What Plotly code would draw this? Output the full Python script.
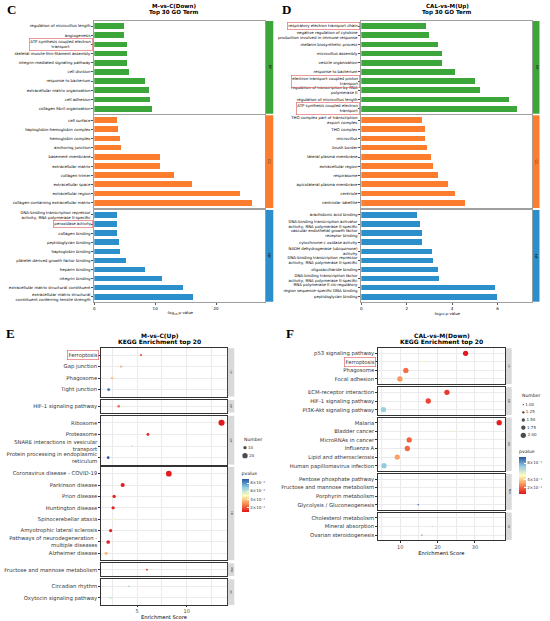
import plotly.graph_objects as go

W, H = 550, 621
DJ = "DejaVu Sans"

# ======================= DATA =======================
# Panel C : M-vs-C(Down) Top 30 GO Term  (-log10 p-value)
c_bp_terms = ["regulation of microvillus length", "angiogenesis",
              "ATP synthesis coupled electron<br>transport",
              "skeletal muscle thin filament assembly",
              "integrin-mediated signaling pathway", "cell division",
              "response to bacterium", "extracellular matrix organization",
              "cell adhesion", "collagen fibril organization"]
c_bp_vals = [4.97, 5.0, 5.35, 5.35, 5.4, 5.75, 8.3, 9.1, 9.2, 9.6]

c_cc_terms = ["cell surface", "haptoglobin-hemoglobin complex", "hemoglobin complex",
              "anchoring junction", "basement membrane", "extracellular matrix",
              "collagen trimer", "extracellular space", "extracellular region",
              "collagen-containing extracellular matrix"]
c_cc_vals = [3.8, 4.0, 4.2, 4.4, 10.8, 10.9, 13.2, 16.1, 24.0, 26.0]

c_mf_terms = ["DNA-binding transcription repressor<br>activity, RNA polymerase II-specific",
              "peroxidase activity", "collagen binding", "peptidoglycan binding",
              "haptoglobin binding", "platelet-derived growth factor binding",
              "heparin binding", "integrin binding",
              "extracellular matrix structural constituent",
              "extracellular matrix structural<br>constituent conferring tensile strength"]
c_mf_vals = [3.7, 3.7, 3.8, 4.1, 4.2, 5.3, 8.3, 11.2, 14.7, 16.3]

c_highlight = ["ATP synthesis coupled electron<br>transport", "peroxidase activity"]
c_x_ticks = [0, 10, 20]

# Panel D : CAL-vs-M(Up) Top 30 GO Term
d_bp_terms = ["respiratory electron transport chain",
              "negative regulation of cytokine<br>production involved in immune response",
              "melanin biosynthetic process", "microvillus assembly",
              "vesicle organization", "response to bacterium",
              "electron transport coupled proton<br>transport",
              "regulation of transcription by RNA<br>polymerase II",
              "regulation of microvillus length",
              "ATP synthesis coupled electron<br>transport"]
d_bp_vals = [2.87, 3.0, 3.38, 3.57, 3.57, 4.15, 5.03, 5.22, 6.5, 6.87]

d_cc_terms = ["THO complex part of transcription<br>export complex", "THO complex",
              "microvillus", "brush border", "lateral plasma membrane",
              "extracellular region", "respirasome", "apicolateral plasma membrane",
              "centriole", "centriolar satellite"]
d_cc_vals = [2.68, 2.82, 2.84, 2.9, 3.07, 3.19, 3.4, 3.84, 4.13, 4.57]

d_mf_terms = ["arachidonic acid binding",
              "DNA-binding transcription activator<br>activity, RNA polymerase II-specific",
              "vascular endothelial growth factor<br>receptor binding",
              "cytochrome-c oxidase activity",
              "NADH dehydrogenase (ubiquinone)<br>activity",
              "DNA-binding transcription repressor<br>activity, RNA polymerase II-specific",
              "oligosaccharide binding",
              "DNA-binding transcription factor<br>activity, RNA polymerase II-specific",
              "RNA polymerase II cis-regulatory<br>region sequence-specific DNA binding",
              "peptidoglycan binding"]
d_mf_vals = [2.46, 2.6, 2.68, 2.69, 3.13, 3.15, 3.38, 3.44, 5.91, 6.01]

d_highlight = ["respiratory electron transport chain",
               "electron transport coupled proton<br>transport",
               "ATP synthesis coupled electron<br>transport"]
d_x_ticks = [0, 2, 4, 6]

go_ontologies = ["BP", "CC", "MF"]

# Panel E : M-vs-C(Up) KEGG Enrichment top 20
e_terms = ["Ferroptosis", "Gap junction", "Phagosome", "Tight junction",
           "HIF-1 signaling pathway",
           "Ribosome", "Proteasome", "SNARE interactions in vesicular<br>transport",
           "Protein processing in endoplasmic<br>reticulum",
           "Coronavirus disease - COVID-19", "Parkinson disease", "Prion disease",
           "Huntington disease", "Spinocerebellar ataxia",
           "Amyotrophic lateral sclerosis",
           "Pathways of neurodegeneration -<br>multiple diseases", "Alzheimer disease",
           "Fructose and mannose metabolism",
           "Circadian rhythm", "Oxytocin signaling pathway"]
e_group = (["Cellular Processes"] * 4 + ["Environmental Information Processing"] +
           ["Genetic Information Processing"] * 4 + ["Human Diseases"] * 8 +
           ["Metabolism"] + ["Organismal Systems"] * 2)
e_score = [5.4, 3.4, 2.5, 2.15, 3.16, 13.5, 6.1, 4.5, 2.1,
           8.2, 3.56, 2.7, 2.6, 2.7, 2.35, 2.1, 1.9, 6.0, 4.2, 2.35]
e_pvalue = [0.017, 0.034, 0.038, 0.085, 0.022, 0.0085, 0.010, 0.057, 0.090,
            0.009, 0.009, 0.010, 0.010, 0.047, 0.010, 0.010, 0.037, 0.012, 0.068, 0.058]
e_number = [4, 5, 6, 8, 6, 24, 8, 3, 7, 22, 14, 10, 10, 6, 10, 12, 10, 3, 2, 5]
e_groups = ["Cellular Processes", "Environmental Information Processing",
            "Genetic Information Processing", "Human Diseases", "Metabolism",
            "Organismal Systems"]
e_strip_labels = ["CP", "EIP", "GIP", "HD", "Met", "OS"]
e_x_ticks = [5, 10]
e_x_minor = [2.5, 7.5, 12.5]
e_p_ticks = [0.02, 0.04, 0.06, 0.08]
e_p_ticktext = ["2×10⁻²", "4×10⁻²", "6×10⁻²", "8×10⁻²"]
e_size_keys = [10, 20]
e_highlight = ["Ferroptosis"]

# Panel F : CAL-vs-M(Down) KEGG Enrichment top 20
f_terms = ["p53 signaling pathway", "Ferroptosis", "Phagosome", "Focal adhesion",
           "ECM-receptor interaction", "HIF-1 signaling pathway",
           "PI3K-Akt signaling pathway",
           "Malaria", "Bladder cancer", "MicroRNAs in cancer", "Influenza A",
           "Lipid and atherosclerosis", "Human papillomavirus infection",
           "Pentose phosphate pathway", "Fructose and mannose metabolism",
           "Porphyrin metabolism", "Glycolysis / Gluconeogenesis",
           "Cholesterol metabolism", "Mineral absorption", "Ovarian steroidogenesis"]
f_group = (["Cellular Processes"] * 4 + ["Environmental Information Processing"] * 3 +
           ["Human Diseases"] * 6 + ["Metabolism"] * 4 + ["Organismal Systems"] * 3)
f_score = [27.5, 16.5, 11.5, 9.9, 22.5, 17.5, 5.5, 36.5, 24.0, 12.4, 11.9, 9.2, 5.65,
           27.0, 22.0, 23.3, 14.8, 20.0, 18.6, 15.8]
f_pvalue = [0.04, 0.46, 0.20, 0.28, 0.10, 0.12, 0.70, 0.05, 0.45, 0.18, 0.19, 0.30, 0.72,
            0.47, 0.46, 0.55, 0.95, 0.63, 0.66, 0.80]
f_number = [2, 1, 2, 2, 2, 2, 2, 2, 1, 2, 2, 2, 2, 1, 1, 1, 1, 1, 1, 1]
f_groups = ["Cellular Processes", "Environmental Information Processing",
            "Human Diseases", "Metabolism", "Organismal Systems"]
f_strip_labels = ["CP", "EIP", "HD", "Met", "OS"]
f_x_ticks = [10, 20, 30]
f_x_minor = [5, 15, 25, 35]
f_p_ticks = [0.2, 0.4, 0.8]
f_p_ticktext = ["2×10⁻¹", "4×10⁻¹", "8×10⁻¹"]
f_size_keys = [1.0, 1.25, 1.5, 1.75, 2.0]
f_highlight = ["Ferroptosis"]

# ======================= STYLE / LAYOUT =======================
GO_COLORS = {"BP": "#3DA63A", "CC": "#FB7D2D", "MF": "#2B8FCB"}
GO_BORDER = "#A0A0A0"
HL = "#E27070"
GRID = "#EBEBEB"
CS = [[0.0, "#E3141B"], [0.25, "#F98E52"], [0.5, "#FFFFBF"],
      [0.75, "#92CBE2"], [1.0, "#2456A4"]]


def px(x):
    return x / W


def py(y):
    return 1 - y / H


fig = go.Figure()
_count = [0]


def new_axes(xbox, ybox, xcfg, ycfg):
    _count[0] += 1
    i = _count[0]
    xname = "xaxis" if i == 1 else f"xaxis{i}"
    yname = "yaxis" if i == 1 else f"yaxis{i}"
    xr = "x" if i == 1 else f"x{i}"
    yr = "y" if i == 1 else f"y{i}"
    xcfg = dict(xcfg, domain=[px(xbox[0]), px(xbox[1])], anchor=yr)
    ycfg = dict(ycfg, domain=[py(ybox[1]), py(ybox[0])], anchor=xr)
    fig.update_layout({xname: xcfg, yname: ycfg})
    return xr, yr


def text(t, x, y, size, color="black", family=DJ, xanchor="center", yanchor="middle",
         angle=0, **kw):
    fig.add_annotation(text=t, xref="paper", yref="paper", x=px(x), y=py(y),
                       xanchor=xanchor, yanchor=yanchor, showarrow=False, textangle=angle,
                       font=dict(size=size, color=color, family=family), **kw)


def split_ticks(terms, highlights):
    """Plain rows get labelled ticks; highlighted rows get an unlabelled (minor) tick."""
    plain = [i for i, t in enumerate(terms) if t not in highlights]
    marked = [i for i, t in enumerate(terms) if t in highlights]
    return plain, [terms[i] for i in plain], marked


# ---------------- GO bar panels ----------------
def go_facet(terms, vals, ont, xbox, ybox, xmax, xticks, bottom, highlights, strip, hl_align):
    n = len(terms)
    pos = list(range(n))
    color = GO_COLORS[ont]
    plain, plain_txt, marked = split_ticks(terms, highlights)
    xcfg = dict(range=[0, xmax], showgrid=False, zeroline=False, showline=True, mirror=True,
                linecolor=GO_BORDER, linewidth=1.2, tickvals=xticks,
                ticks="outside" if bottom else "", ticklen=2, tickcolor="#555",
                showticklabels=bottom, tickfont=dict(size=4, family=DJ, color="black"))
    if bottom:
        xcfg["title"] = dict(text="-log<sub>10</sub> p-value", standoff=1,
                             font=dict(size=3.9, family=DJ, color="black"))
    ycfg = dict(range=[n - 1 + 0.55, -0.55], tickvals=plain, ticktext=plain_txt,
                ticks="outside", ticklen=2, tickwidth=1, tickcolor="#555", showgrid=False,
                minor=dict(tickvals=marked, ticks="outside", ticklen=2, tickwidth=1,
                           tickcolor="#555", showgrid=False),
                zeroline=False, showline=True, mirror=True, linecolor=GO_BORDER,
                linewidth=1.2, tickfont=dict(size=3.9, family=DJ, color="black"))
    xr, yr = new_axes(xbox, ybox, xcfg, ycfg)
    fig.add_trace(go.Bar(x=vals, y=pos, orientation="h", width=0.62,
                         marker=dict(color=color, line=dict(width=0)),
                         xaxis=xr, yaxis=yr, showlegend=False, hoverinfo="skip"))
    fig.add_shape(type="rect", xref="paper", yref="paper", x0=px(strip[0]), x1=px(strip[1]),
                  y0=py(ybox[1]), y1=py(ybox[0]), fillcolor=color, line_width=0)
    text(ont, (strip[0] + strip[1]) / 2, (ybox[0] + ybox[1]) / 2, 3.5, color="#222", angle=90)
    for i in marked:
        fig.add_annotation(text=terms[i], xref="paper", yref=yr, x=px(xbox[0] - 1.2),
                           y=i, xanchor="right", yanchor="middle",
                           showarrow=False, align=hl_align, bordercolor=HL,
                           borderwidth=0.7, borderpad=0.6,
                           font=dict(size=3.9, family=DJ, color="black"))


GO_Y = [(21, 113.7), (115.3, 208), (210, 301.7)]
for k, (terms, vals) in enumerate([(c_bp_terms, c_bp_vals), (c_cc_terms, c_cc_vals),
                                    (c_mf_terms, c_mf_vals)]):
    go_facet(terms, vals, go_ontologies[k], (94.3, 265.3), GO_Y[k], 28.1, c_x_ticks,
             k == 2, c_highlight, (265.9, 273.3), "center")
for k, (terms, vals) in enumerate([(d_bp_terms, d_bp_vals), (d_cc_terms, d_cc_vals),
                                    (d_mf_terms, d_mf_vals)]):
    go_facet(terms, vals, go_ontologies[k], (361.3, 532.3), GO_Y[k], 7.53, d_x_ticks,
             k == 2, d_highlight, (532.9, 539.5), "right")


# ---------------- KEGG dot panels ----------------
def kegg_panel(terms, group, score, pvalue, number, groups, strip_labels, xbox, yboxes,
               xrange, xticks, xminor, coloraxis, sizefn, highlights, strip):
    last = len(groups) - 1
    for gi, g in enumerate(groups):
        idx = [i for i, gg in enumerate(group) if gg == g]
        t = [terms[i] for i in idx]
        n = len(t)
        pos = list(range(n))
        plain, plain_txt, marked = split_ticks(t, highlights)
        bottom = gi == last
        xcfg = dict(range=xrange, showgrid=True, gridcolor=GRID, gridwidth=0.6,
                    tickvals=xticks, zeroline=False, showline=True, mirror=True,
                    linecolor="#333", linewidth=0.9,
                    minor=dict(tickvals=xminor, showgrid=True, gridcolor=GRID, gridwidth=0.35),
                    ticks="outside" if bottom else "", ticklen=1.5, tickcolor="#333",
                    showticklabels=bottom, tickfont=dict(size=5, family=DJ, color="#4D4D4D"))
        if bottom:
            xcfg["title"] = dict(text="Enrichment Score", standoff=0,
                                 font=dict(size=5.2, family=DJ, color="black"))
        ycfg = dict(range=[n - 1 + 0.6, -0.6], tickvals=plain, ticktext=plain_txt,
                    showgrid=True, gridcolor=GRID, gridwidth=0.6, zeroline=False,
                    showline=True, mirror=True, linecolor="#333", linewidth=0.9,
                    ticks="outside", ticklen=1.5, tickwidth=1, tickcolor="#333",
                    minor=dict(tickvals=marked, ticks="outside", ticklen=1.5, tickwidth=1,
                               tickcolor="#333", showgrid=True, gridcolor=GRID,
                               gridwidth=0.6),
                    tickfont=dict(size=5.3, family=DJ, color="#333"))
        ybox = yboxes[gi]
        xr, yr = new_axes(xbox, ybox, xcfg, ycfg)
        fig.add_trace(go.Scatter(
            x=[score[i] for i in idx], y=pos, mode="markers",
            marker=dict(size=[sizefn(number[i]) for i in idx],
                        color=[pvalue[i] for i in idx], coloraxis=coloraxis,
                        line=dict(width=0), opacity=1),
            xaxis=xr, yaxis=yr, showlegend=False, hoverinfo="skip"))
        fig.add_shape(type="rect", xref="paper", yref="paper", x0=px(strip[0]),
                      x1=px(strip[1]), y0=py(ybox[1]), y1=py(ybox[0]),
                      fillcolor="#D9D9D9", line_width=0)
        text(strip_labels[gi], (strip[0] + strip[1]) / 2, (ybox[0] + ybox[1]) / 2, 2.6,
             color="#1A1A1A", angle=90)
        for i in marked:
            fig.add_annotation(text=t[i], xref="paper", yref=yr, x=px(xbox[0] - 1.4),
                               y=i, xanchor="right", yanchor="middle",
                               showarrow=False, bordercolor=HL, borderwidth=0.7,
                               borderpad=0.8,
                               font=dict(size=5.3, family=DJ, color="#333"))


def e_size(n):
    return 1.3 + 0.2 * n


def f_size(n):
    return 1.4 + 3.9 * (n - 1)


kegg_panel(e_terms, e_group, e_score, e_pvalue, e_number, e_groups, e_strip_labels,
           (100.7, 227.2),
           [(348.2, 396.5), (400, 412.5), (415.8, 464.6), (466.8, 560.2), (563.3, 576),
            (579.3, 605)],
           [1.35, 14.07], e_x_ticks, e_x_minor, "coloraxis", e_size, e_highlight,
           (227.9, 234.3))
kegg_panel(f_terms, f_group, f_score, f_pvalue, f_number, f_groups, f_strip_labels,
           (377.7, 505),
           [(348.2, 384.1), (387.1, 414.9), (417.5, 470.9), (473.9, 509.8), (512.5, 540.2)],
           [3.96, 38.05], f_x_ticks, f_x_minor, "coloraxis2", f_size, f_highlight,
           (506, 511.7))


# size legends (drawn on small helper axes)
def size_legend(keys, sizefn, xbox, ybox, title_y, label_fmt):
    n = len(keys)
    xr, yr = new_axes(xbox, ybox, dict(range=[0, 1], visible=False, fixedrange=True),
                      dict(range=[n - 0.5, -0.5], visible=False, fixedrange=True))
    fig.add_trace(go.Scatter(x=[0.15] * n, y=list(range(n)), mode="markers+text",
                             marker=dict(size=[sizefn(k) for k in keys], color="black",
                                         line=dict(width=0)),
                             text=[label_fmt(k) for k in keys], textposition="middle right",
                             textfont=dict(size=4, family=DJ, color="#333"),
                             xaxis=xr, yaxis=yr, showlegend=False, hoverinfo="skip",
                             cliponaxis=False))
    text("Number", xbox[0], title_y, 4.6, color="#1A1A1A", xanchor="left")


size_legend(e_size_keys, e_size, (242, 262), (443.7, 459.7), 439.3, lambda k: f"{k}")
size_legend(f_size_keys, f_size, (519.5, 545), (400.8, 439.2), 396, lambda k: f"{k:.2f}")


def cbar(x, top, length, ticks, ticktext):
    return dict(x=px(x), xanchor="left", y=py(top), yanchor="top", len=length,
                lenmode="pixels", thickness=7, thicknessmode="pixels",
                tickvals=ticks, ticktext=ticktext, ticks="inside", ticklen=2,
                tickcolor="white", outlinewidth=0, xpad=0, ypad=0,
                tickfont=dict(size=4, family=DJ, color="#333"),
                title=dict(text="pvalue", side="top",
                           font=dict(size=4.6, family=DJ, color="#1A1A1A")))


fig.update_layout(
    coloraxis=dict(colorscale=CS, cmin=0.008, cmax=0.09,
                   colorbar=cbar(241.5, 469, 43, e_p_ticks, e_p_ticktext)),
    coloraxis2=dict(colorscale=CS, cmin=0.03, cmax=0.95,
                    colorbar=cbar(519, 447, 47, f_p_ticks, f_p_ticktext)),
)

# ---------------- titles & panel letters ----------------
SERIF = "Liberation Serif"
text("<b>C</b>", 4.5, 10, 13, family=SERIF, xanchor="left")
text("<b>D</b>", 279.5, 9.5, 13, family=SERIF, xanchor="left")
text("<b>E</b>", 3.5, 334, 13, family=SERIF, xanchor="left")
text("<b>F</b>", 284, 333.5, 13, family=SERIF, xanchor="left")

text("<b>M-vs-C(Down)</b>", 173.5, 6.3, 5.6)
text("<b>Top 30 GO Term</b>", 173.5, 12.4, 5.6)
text("<b>CAL-vs-M(Up)</b>", 447, 6.3, 5.6)
text("<b>Top 30 GO Term</b>", 447, 12.4, 5.6)
text("<b>M-vs-C(Up)</b>", 160, 335.6, 6.0)
text("<b>KEGG Enrichment top 20</b>", 159, 341.9, 6.0)
text("<b>CAL-vs-M(Down)</b>", 441.7, 335.6, 6.0)
text("<b>KEGG Enrichment top 20</b>", 441.7, 341.9, 6.0)

fig.update_layout(width=W, height=H, autosize=False,
                  margin=dict(l=0, r=0, t=0, b=0, pad=0),
                  paper_bgcolor="white", plot_bgcolor="white",
                  bargap=0, showlegend=False,
                  font=dict(family=DJ, size=5, color="black"))

fig.write_html("out.html", config=dict(displayModeBar=False),
               post_script="document.body.style.margin='0px';"
                           "document.body.style.overflow='hidden';")
